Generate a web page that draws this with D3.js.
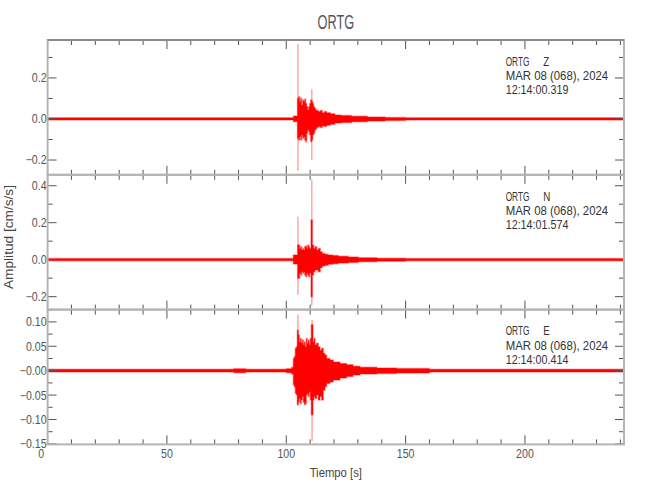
<!DOCTYPE html>
<html>
<head>
<meta charset="utf-8">
<script src="https://cdn.jsdelivr.net/npm/d3@7"></script>
<style>
  body { margin: 0; background: #fff; }
  svg { display: block; }
  text { font-family: "Liberation Sans", Arial, sans-serif; }
</style>
</head>
<body>
<svg id="seis" width="650" height="500"></svg>
<script>
'use strict'

// --- data (time in s, amplitude in cm/s/s) ---
const station = "ORTG";
const timeEnd = 241.5;
const xMajor = [0, 50, 100, 150, 200];

// Z component: envelope bins (bin start time, max, min)
const zBinT = [0, 103, 104.7, 105.19, 105.6, 106.02, 106.44, 106.86, 107.28, 107.7, 108.12, 108.54, 108.96, 109.38, 109.79, 110.21, 110.63, 111.05, 111.47, 111.89, 112.31, 112.73, 113.42, 114.26, 115.1, 115.94, 116.9, 118.5, 120.4, 123.0, 127.4, 134.0, 141.4, 150.0];
const zMax  = [0.0055, 0.014, 0.100, 0.109, 0.085, 0.101, 0.068, 0.093, 0.085, 0.096, 0.076, 0.060, 0.044, 0.060, 0.076, 0.093, 0.085, 0.076, 0.060, 0.052, 0.044, 0.041, 0.036, 0.041, 0.031, 0.036, 0.030, 0.026, 0.020, 0.017, 0.013, 0.010, 0.0075, 0.0055];
const zMin  = [-0.0055, -0.014, -0.095, -0.102, -0.086, -0.102, -0.078, -0.094, -0.086, -0.102, -0.111, -0.070, -0.054, -0.062, -0.078, -0.111, -0.102, -0.078, -0.070, -0.054, -0.050, -0.041, -0.037, -0.041, -0.034, -0.037, -0.030, -0.026, -0.020, -0.017, -0.013, -0.010, -0.0075, -0.0055];
const zSpikeT   = [104.9, 110.7];
const zSpikeMax = [0.366, 0.145];
const zSpikeMin = [-0.252, -0.200];
const zDomain = [-0.272, 0.385];
const zTicks = [-0.2, 0.0, 0.2];
const zTickLabels = ["−0.2", "0.0", "0.2"];
const zMinor = [-0.2, -0.1, 0, 0.1, 0.2, 0.3];
const zInfo = ["ORTG", "Z", "MAR 08 (068), 2024", "12:14:00.319"];

// N component
const nBinT = [0, 102.95, 104.77, 105.19, 105.6, 106.02, 106.44, 106.86, 107.28, 107.7, 108.12, 108.54, 108.96, 109.38, 109.79, 110.35, 110.91, 111.47, 112.03, 112.73, 113.42, 114.26, 115.1, 116.22, 117.6, 119.5, 121.8, 126.0, 130.2, 138.0, 150.0];
const nMax  = [0.006, 0.025, 0.079, 0.079, 0.061, 0.070, 0.052, 0.061, 0.052, 0.070, 0.074, 0.061, 0.079, 0.070, 0.061, 0.214, 0.079, 0.061, 0.070, 0.052, 0.061, 0.043, 0.034, 0.030, 0.025, 0.022, 0.018, 0.015, 0.011, 0.008, 0.006];
const nMin  = [-0.006, -0.023, -0.100, -0.101, -0.074, -0.083, -0.065, -0.074, -0.065, -0.083, -0.092, -0.074, -0.083, -0.092, -0.074, -0.200, -0.083, -0.065, -0.056, -0.056, -0.065, -0.043, -0.034, -0.030, -0.025, -0.022, -0.018, -0.015, -0.011, -0.008, -0.006];
const nSpikeT   = [104.9, 110.7];
const nSpikeMax = [0.232, 0.434];
const nSpikeMin = [-0.190, -0.249];
const nDomain = [-0.270, 0.459];
const nTicks = [-0.2, 0.0, 0.2, 0.4];
const nTickLabels = ["−0.2", "0.0", "0.2", "0.4"];
const nMinor = [-0.2, -0.1, 0, 0.1, 0.2, 0.3, 0.4];
const nInfo = ["ORTG", "N", "MAR 08 (068), 2024", "12:14:01.574"];

// E component
const eBinT = [0, 78, 83, 100, 102.25, 102.95, 103.36, 103.78, 104.2, 104.62, 105.04, 105.46, 105.88, 106.3, 106.72, 107.14, 107.55, 107.97, 108.39, 108.81, 109.23, 109.65, 110.07, 110.49, 111.18, 111.6, 112.02, 112.72, 113.42, 114.12, 114.82, 115.51, 116.21, 116.91, 118.31, 119.7, 122.5, 125.3, 128.0, 130.9, 138.0, 146.2, 160.0];
const eMax  = [0.0029, 0.004, 0.0029, 0.004, 0.007, 0.025, 0.029, 0.046, 0.049, 0.083, 0.073, 0.059, 0.066, 0.056, 0.063, 0.053, 0.059, 0.049, 0.066, 0.056, 0.063, 0.053, 0.066, 0.094, 0.059, 0.066, 0.053, 0.056, 0.049, 0.042, 0.046, 0.036, 0.032, 0.025, 0.022, 0.018, 0.015, 0.012, 0.009, 0.007, 0.0055, 0.0045, 0.0029];
const eMin  = [-0.0029, -0.004, -0.0029, -0.004, -0.007, -0.029, -0.033, -0.046, -0.050, -0.070, -0.064, -0.057, -0.067, -0.060, -0.053, -0.064, -0.070, -0.067, -0.050, -0.046, -0.053, -0.043, -0.060, -0.090, -0.060, -0.053, -0.057, -0.050, -0.060, -0.053, -0.060, -0.040, -0.033, -0.026, -0.023, -0.019, -0.015, -0.012, -0.009, -0.007, -0.0055, -0.0045, -0.0029];
const eSpikeT   = [104.9, 110.8];
const eSpikeMax = [0.115, 0.104];
const eSpikeMin = [-0.070, -0.144];
const eDomain = [-0.151, 0.1252];
const eTicks = [-0.15, -0.10, -0.05, 0.0, 0.05, 0.10];
const eTickLabels = ["−0.15", "−0.10", "−0.05", "−0.00", "0.05", "0.10"];
const eMinor = [-0.15, -0.125, -0.1, -0.075, -0.05, -0.025, 0, 0.025, 0.05, 0.075, 0.1, 0.125];
const eInfo = ["ORTG", "E", "MAR 08 (068), 2024", "12:14:00.414"];

// --- layout ---
const plotL = 47.6, plotR = 624, plotT = 40, panelH = 134.8;
const frameColor = "#b4b4b4", tickColor = "#555", labelColor = "#555";
const red = "#ff0000";
const tickScale = 0.87;

const svg = d3.select("#seis");
const x = d3.scaleLinear().domain([0, timeEnd]).range([plotL, plotR]);
const xMinor = d3.range(0, timeEnd, 10);

// narrow text, either squeezed to a width or scaled horizontally
function label(parent, px, py, str, size, opts) {
  opts = opts || {};
  const t = parent.append("text")
    .attr("font-size", size)
    .attr("fill", opts.fill || labelColor)
    .attr("text-anchor", opts.anchor || "start")
    .text(str);
  if (opts.width) {
    t.attr("x", px).attr("y", py)
      .attr("textLength", opts.width).attr("lengthAdjust", "spacingAndGlyphs");
    if (opts.rotate) t.attr("transform", `rotate(${opts.rotate},${px},${py})`);
  } else {
    t.attr("transform", `translate(${px},${py}) scale(${opts.sx || tickScale},1)`);
  }
  return t;
}

const panels = [
  { binT: zBinT, hi: zMax, lo: zMin, sT: zSpikeT, sHi: zSpikeMax, sLo: zSpikeMin, domain: zDomain, ticks: zTicks, labels: zTickLabels, minor: zMinor, info: zInfo },
  { binT: nBinT, hi: nMax, lo: nMin, sT: nSpikeT, sHi: nSpikeMax, sLo: nSpikeMin, domain: nDomain, ticks: nTicks, labels: nTickLabels, minor: nMinor, info: nInfo },
  { binT: eBinT, hi: eMax, lo: eMin, sT: eSpikeT, sHi: eSpikeMax, sLo: eSpikeMin, domain: eDomain, ticks: eTicks, labels: eTickLabels, minor: eMinor, info: eInfo }
];

panels.forEach((p, i) => {
  const y0 = plotT + i * panelH, y1 = y0 + panelH;
  const y = d3.scaleLinear().domain(p.domain).range([y1, y0]);
  const g = svg.append("g");

  g.append("clipPath").attr("id", "clip" + i)
    .append("rect").attr("x", plotL).attr("y", y0).attr("width", plotR - plotL).attr("height", panelH);

  // envelope bins, last one runs to the end of the record
  const bins = p.binT.map((t, k) => ({ t: t, hi: p.hi[k], lo: p.lo[k] }));
  bins.push({ t: timeEnd, hi: p.hi[p.hi.length - 1], lo: p.lo[p.lo.length - 1] });

  const area = d3.area()
    .curve(d3.curveStepAfter)
    .x(d => x(d.t))
    .y0(d => y(d.lo))
    .y1(d => y(d.hi));

  const trace = g.append("g").attr("clip-path", `url(#clip${i})`);
  trace.append("path")
    .datum(bins)
    .attr("d", area)
    .attr("fill", red)
    .attr("stroke", red)
    .attr("stroke-opacity", 0.35)
    .attr("stroke-width", 1.5);

  trace.selectAll("line.spike")
    .data(p.sT.map((t, k) => ({ t: t, hi: p.sHi[k], lo: p.sLo[k] })))
    .enter().append("line")
    .attr("class", "spike")
    .attr("x1", d => x(d.t)).attr("x2", d => x(d.t))
    .attr("y1", d => y(d.lo)).attr("y2", d => y(d.hi))
    .attr("stroke", red)
    .attr("stroke-opacity", 0.4)
    .attr("stroke-width", 1.3);

  // ticks (inward on all four sides)
  const tk = g.append("g").attr("stroke", tickColor).attr("stroke-width", 1);
  xMinor.forEach(t => {
    const len = t % 50 === 0 ? 9 : 5;
    tk.append("line").attr("x1", x(t)).attr("x2", x(t)).attr("y1", y0).attr("y2", y0 + len);
    tk.append("line").attr("x1", x(t)).attr("x2", x(t)).attr("y1", y1).attr("y2", y1 - len);
  });
  p.minor.forEach(v => {
    const major = p.ticks.some(m => Math.abs(m - v) < 1e-9);
    const len = major ? 9 : 5;
    tk.append("line").attr("x1", plotL).attr("x2", plotL + len).attr("y1", y(v)).attr("y2", y(v));
    tk.append("line").attr("x1", plotR).attr("x2", plotR - len).attr("y1", y(v)).attr("y2", y(v));
  });

  // frame
  g.append("rect")
    .attr("x", plotL).attr("y", y0).attr("width", plotR - plotL).attr("height", panelH)
    .attr("fill", "none").attr("stroke", frameColor).attr("stroke-width", 2);

  // y tick labels
  p.ticks.forEach((v, k) => {
    label(g, plotL - 1, y(v) + 4.4, p.labels[k], 12.2, { anchor: "end" });
  });

  // station info block
  const ix = 505.7, iy = y0 + 25.7;
  label(g, ix, iy, p.info[0], 12.2, { fill: "#333", width: 23.7 });
  label(g, ix + 37.5, iy, p.info[1], 12.2, { fill: "#333", sx: 0.8 });
  label(g, ix, iy + 14.3, p.info[2], 12.2, { fill: "#333", width: 102.5 });
  label(g, ix, iy + 28.6, p.info[3], 12.2, { fill: "#333", width: 62.7 });
});

// top border of the first panel is drawn darker
svg.append("line")
  .attr("x1", plotL).attr("x2", plotR).attr("y1", plotT).attr("y2", plotT)
  .attr("stroke", "#8a8a8a").attr("stroke-width", 2);

// x tick labels
const yBottom = plotT + 3 * panelH;
xMajor.forEach(v => {
  label(svg, x(v) + (v === 0 ? -6.5 : 0), yBottom + 13.3, String(v), 12.2, { anchor: "middle" });
});

// axis titles
label(svg, (plotL + plotR) / 2, 476.5, "Tiempo [s]", 12.2, { anchor: "middle", width: 52.3, fill: "#444" });
label(svg, 13, 237, "Amplitud [cm/s/s]", 12.2, { anchor: "middle", width: 104, fill: "#444", rotate: -90 });
label(svg, (plotL + plotR) / 2, 29, station, 19.5, { anchor: "middle", width: 36.7 });
</script>
</body>
</html>
